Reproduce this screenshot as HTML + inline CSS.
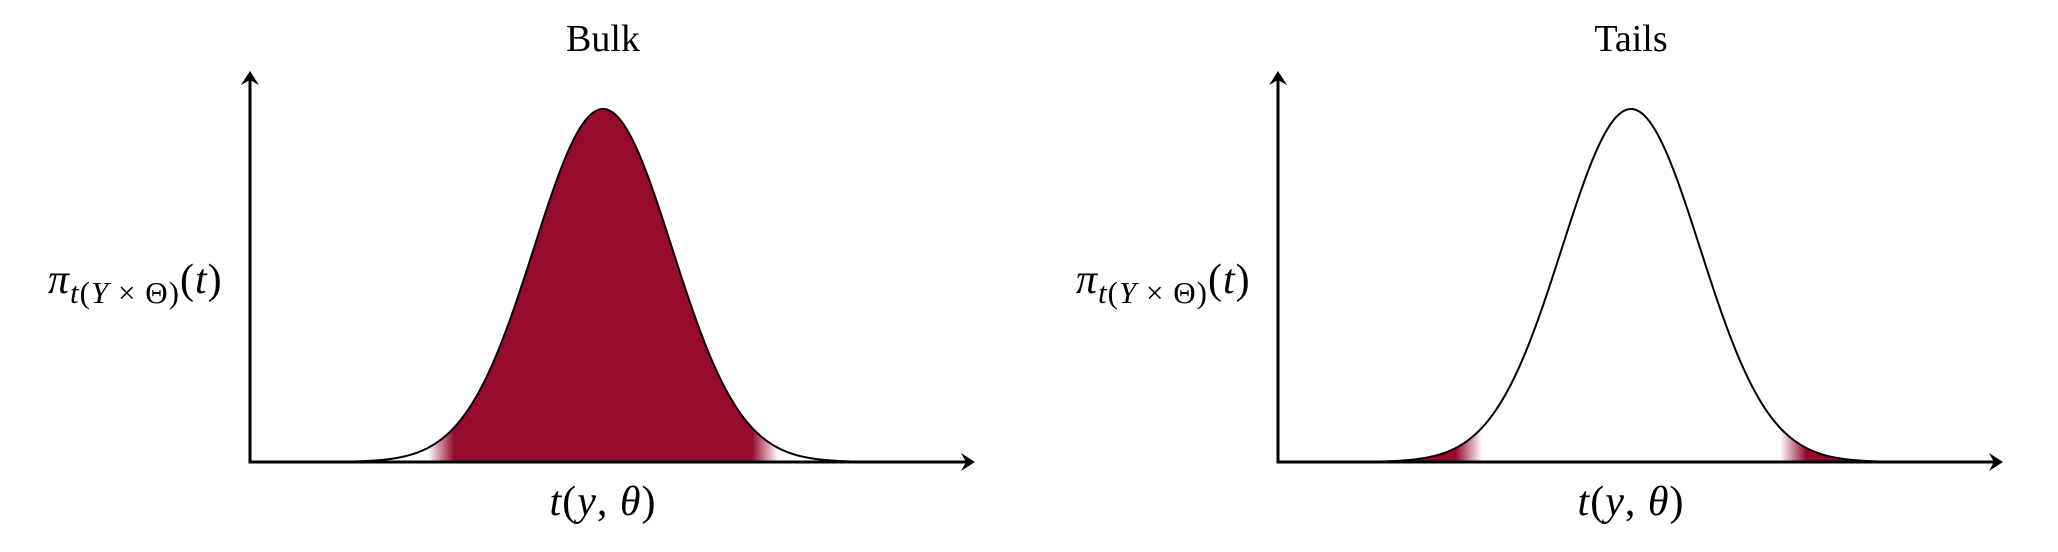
<!DOCTYPE html>
<html><head><meta charset="utf-8"><style>
html,body{margin:0;padding:0;background:#fff;}
svg{display:block;}
text{font-family:"Liberation Serif",serif;fill:#000;}
</style></head><body>
<svg id="chart" width="2058" height="552" viewBox="0 0 2058 552" xmlns="http://www.w3.org/2000/svg"></svg>
<script>
// data
const panelTitles = ["Bulk", "Tails"];
const distMean = [0, 0];
const distSd = [1, 1];
const shadeInner = [-2.16, 2.16];   // where the fade starts/ends (in sd units)
const shadeOuter = [-2.54, 2.54];
const shadeModes = ["bulk", "tails"];

const NS = "http://www.w3.org/2000/svg";
const svg = document.getElementById("chart");
const RED = "#960A2C";
const pxPerUnit = 69, baseY = 462, peakY = 109;
const panelOffsets = [0, 1028];

function mk(tag, attrs, parent) {
  const e = document.createElementNS(NS, tag);
  for (const k in attrs) e.setAttribute(k, attrs[k]);
  (parent || svg).appendChild(e);
  return e;
}
const defs = mk("defs", {});

panelTitles.forEach((title, p) => {
  const off = panelOffsets[p];
  const cx = off + 603, axX = off + 250, axEnd = off + 975;
  const mu = distMean[p], sd = distSd[p];
  const xs = t => cx + (t - mu) / sd * pxPerUnit;
  const dens = t => Math.exp(-0.5 * ((t - mu) / sd) ** 2);
  const ys = d => baseY - d * (baseY - peakY);
  const g = mk("g", {});
  
  

  const gid = "grad" + p;
  const lg = mk("linearGradient", {id: gid, gradientUnits: "userSpaceOnUse", x1: off, y1: 0, x2: off + 1029, y2: 0}, defs);
  const frac = x => ((x - off) / 1029).toFixed(4);
  const a = xs(shadeOuter[0]), b = xs(shadeInner[0]), c = xs(shadeInner[1]), d = xs(shadeOuter[1]);
  const bulk = shadeModes[p] === "bulk";
  const stops = [[a, bulk ? "#fff" : RED], [b, bulk ? RED : "#fff"], [c, bulk ? RED : "#fff"], [d, bulk ? "#fff" : RED]];
  stops.forEach(s => mk("stop", {offset: frac(s[0]), "stop-color": s[1]}, lg));

  const t0 = mu + (axX - cx) / pxPerUnit * sd, t1 = mu + (axEnd - 20 - cx) / pxPerUnit * sd;
  let pts = [];
  for (let i = 0; i <= 400; i++) {
    const t = t0 + (t1 - t0) * i / 400;
    pts.push([xs(t), ys(dens(t))]);
  }
  const line = pts.map((q, i) => (i ? "L" : "M") + q[0].toFixed(2) + " " + q[1].toFixed(2)).join(" ");
  const area = mk("path", {d: line + ` L${pts[pts.length-1][0]} ${baseY} L${pts[0][0]} ${baseY} Z`, fill: `url(#${gid})`, stroke: "none"}, g);
  
  
  const curve = mk("path", {d: line, fill: "none", stroke: "#000", "stroke-width": 2}, g);
  
  

  const xa = mk("line", {x1: axX, y1: baseY, x2: axEnd - 4, y2: baseY, stroke: "#000", "stroke-width": 3}, g);
  
  
  const ya = mk("line", {x1: axX, y1: baseY + 1.5, x2: axX, y2: 79, stroke: "#000", "stroke-width": 3}, g);
  
  
  const xh = mk("path", {d: `M${axEnd} ${baseY} L${axEnd-14} ${baseY-9} L${axEnd-9} ${baseY} L${axEnd-14} ${baseY+9} Z`, fill: "#000"}, g);
  
  
  const yh = mk("path", {d: `M${axX} 71 L${axX-9} 85 L${axX} 80 L${axX+9} 85 Z`, fill: "#000"}, g);
  
  

  const tt = mk("text", {x: cx, y: 51, "font-size": 38, "text-anchor": "middle"}, g);
  tt.textContent = title;
  
  
  const xl = mk("text", {x: cx, y: 515, "font-size": 42, "text-anchor": "middle", "font-style": "italic", "letter-spacing": "1"}, g);
  xl.innerHTML = 't<tspan font-style="normal">(</tspan>y<tspan font-style="normal">, </tspan>θ<tspan font-style="normal">)</tspan>';
  
  
  const yl = mk("text", {x: off + 48, y: 293, "font-size": 42, "letter-spacing": "1"}, g);
  yl.innerHTML = '<tspan font-style="italic">π</tspan><tspan font-size="31" dy="10"><tspan font-style="italic">t</tspan>(<tspan font-style="italic">Y</tspan> × Θ)</tspan><tspan dy="-10">(<tspan font-style="italic">t</tspan>)</tspan>';
  
  
});
</script>
</body></html>
